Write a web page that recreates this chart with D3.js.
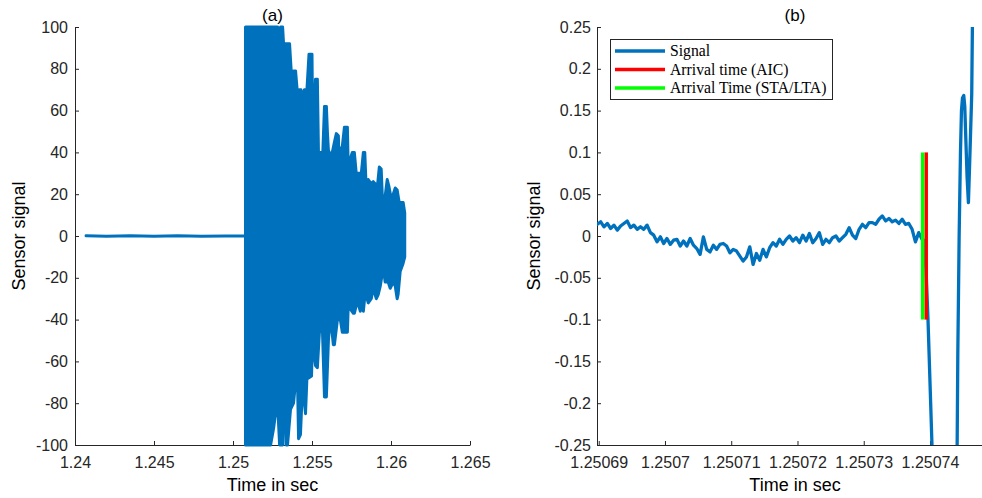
<!DOCTYPE html>
<html><head><meta charset="utf-8">
<script src="https://cdn.jsdelivr.net/npm/d3@7"></script>
<style>
body{margin:0;background:#fff;}
svg{display:block;}
</style></head><body>
<svg id="chart" width="982" height="498"></svg>
<script>
// ---------------- DATA ----------------
// Panel (a): full record
const baseT = [1.2407, 1.2420, 1.2435, 1.2450, 1.2465, 1.2480, 1.2495, 1.25079];
const baseV = [0.15, -0.1, 0.1, -0.1, 0.15, -0.1, 0.05, 0];
// upper envelope of the burst (positive peaks)
const upT = [1.25079, 1.25282, 1.25288, 1.25301, 1.25314, 1.25320, 1.25358, 1.25370, 1.25383, 1.25396,
  1.25408, 1.25421, 1.25430, 1.25440, 1.25452, 1.25468, 1.25481, 1.25500, 1.25505, 1.25522,
  1.25534, 1.25541, 1.25560, 1.25566, 1.25579, 1.25591, 1.25598, 1.25604, 1.25623, 1.25642,
  1.25654, 1.25667, 1.25673, 1.25686, 1.25692, 1.25705, 1.25724, 1.25730, 1.25743, 1.25755,
  1.25768, 1.25780, 1.25793, 1.25812, 1.25825, 1.25834, 1.25844, 1.25856, 1.25875, 1.25888,
  1.25900, 1.25913, 1.25926, 1.25938, 1.25945, 1.25963, 1.25976, 1.25986, 1.26001, 1.26014,
  1.26027, 1.26039, 1.26052, 1.26077, 1.26087];
const upV = [100, 100, 95, 100, 100, 92, 92, 77, 79, 79,
  68, 70, 70, 66, 70, 70, 87, 87, 46, 75,
  75, 40, 40, 35, 62, 62, 49, 41, 38, 45,
  49, 48, 30, 42, 43, 52, 52, 30, 37, 40,
  40, 30, 30, 30, 40, 40, 21, 27, 25, 26,
  25, 23, 33, 32, 19, 19, 27, 24, 18, 20,
  23, 22, 16, 16, 11];
// lower envelope of the burst (negative peaks)
const lowT = [1.25079, 1.25238, 1.25257, 1.25269, 1.25282, 1.25295, 1.25314, 1.25326, 1.25336, 1.25345,
  1.25364, 1.25383, 1.25396, 1.25408, 1.25415, 1.25427, 1.25440, 1.25446, 1.25459, 1.25471,
  1.25478, 1.25497, 1.25503, 1.25522, 1.25534, 1.25547, 1.25566, 1.25579, 1.25591, 1.25604,
  1.25616, 1.25635, 1.25642, 1.25661, 1.25673, 1.25692, 1.25724, 1.25730, 1.25743, 1.25762,
  1.25768, 1.25787, 1.25806, 1.25818, 1.25825, 1.25837, 1.25856, 1.25875, 1.25888, 1.25907,
  1.25919, 1.25932, 1.25951, 1.25963, 1.25982, 1.25995, 1.26014, 1.26027, 1.26039, 1.26045,
  1.26058, 1.26077, 1.26087];
const lowV = [-100, -100, -92, -85, -80, -100, -100, -60, -100, -100,
  -83, -80, -70, -68, -97, -95, -72, -75, -85, -62,
  -68, -67, -50, -62, -63, -46, -45, -77, -77, -50,
  -38, -52, -52, -40, -37, -46, -46, -32, -35, -37,
  -37, -31, -36, -23, -36, -27, -32, -30, -25, -30,
  -28, -24, -15, -22, -22, -25, -22, -24, -30, -28,
  -17, -13, -10];

// Panel (b): zoom around the arrival
const zoomT = [1.2506898,
  1.2506903, 1.2506908, 1.2506913, 1.2506918, 1.2506923, 1.2506928, 1.2506933, 1.2506938, 1.2506943, 1.2506948,
  1.2506953, 1.2506958, 1.2506963, 1.2506968, 1.2506973, 1.2506978, 1.2506983, 1.2506988, 1.2506993, 1.2506998,
  1.2507003, 1.2507008, 1.2507013, 1.2507018, 1.2507023, 1.2507028, 1.2507033, 1.2507038, 1.2507043, 1.2507048,
  1.2507053, 1.2507058, 1.2507063, 1.2507068, 1.2507073, 1.2507078, 1.2507083, 1.2507088, 1.2507093, 1.2507098,
  1.2507103, 1.2507108, 1.2507113, 1.2507118, 1.2507123, 1.2507128, 1.2507133, 1.2507138, 1.2507143, 1.2507148,
  1.2507153, 1.2507158, 1.2507163, 1.2507168, 1.2507173, 1.2507178, 1.2507183, 1.2507188, 1.2507193, 1.2507198,
  1.2507203, 1.2507208, 1.2507213, 1.2507218, 1.2507223, 1.2507228, 1.2507233, 1.2507238, 1.2507243, 1.2507248,
  1.2507253, 1.2507258, 1.2507263, 1.2507268, 1.2507273, 1.2507278, 1.2507283, 1.2507288, 1.2507293, 1.2507298,
  1.2507303, 1.2507308, 1.2507313, 1.2507318, 1.2507323, 1.2507328, 1.2507333, 1.2507338, 1.2507343, 1.2507348,
  1.2507353, 1.2507358, 1.2507363, 1.2507368, 1.2507373, 1.2507378, 1.2507383, 1.2507388,
  1.2507391, 1.2507394, 1.2507397, 1.2507400, 1.2507403, 1.2507409, 1.2507421, 1.2507430, 1.2507436, 1.2507439,
  1.2507441, 1.2507442, 1.2507444, 1.2507446, 1.25074475, 1.2507449, 1.2507451, 1.25074525, 1.25074535, 1.2507456, 1.2507458, 1.2507460,
  1.2507463, 1.2507464, 1.2507466];
const zoomV = [0.014,
  0.017, 0.011, 0.015, 0.009, 0.013, 0.007, 0.012, 0.015, 0.018, 0.010,
  0.013, 0.008, 0.011, 0.008, 0.013, 0.004, 0.001, -0.007, -0.001, -0.009,
  -0.003, -0.010, -0.005, -0.004, -0.012, -0.006, -0.012, -0.003, -0.011, -0.015,
  -0.022, -0.001, -0.016, -0.019, -0.011, -0.016, -0.010, -0.009, -0.012, -0.020,
  -0.016, -0.018, -0.024, -0.030, -0.025, -0.013, -0.034, -0.021, -0.029, -0.016,
  -0.025, -0.014, -0.008, -0.012, -0.004, -0.010, -0.004, 0.000, -0.006, -0.002,
  -0.008, 0.001, -0.006, 0.003, -0.008, -0.003, 0.004, -0.010, -0.004, -0.008,
  -0.002, 0.000, -0.006, -0.002, 0.002, 0.010, 0.001, -0.003, 0.008, 0.014,
  0.010, 0.016, 0.016, 0.014, 0.020, 0.024, 0.018, 0.021, 0.017, 0.019,
  0.015, 0.020, 0.014, 0.015, 0.008, -0.007, 0.004, -0.004,
  -0.005, -0.04, -0.10, -0.175, -0.25, -0.40, -0.62, -0.66, -0.55, -0.36,
  -0.25, -0.14, 0.0, 0.10, 0.15, 0.165, 0.168, 0.155, 0.13, 0.07, 0.04, 0.09,
  0.17, 0.25, 0.35];
const arrivalAIC = 1.25073943;
const arrivalSTA = 1.25073889;
const markerSpan = [-0.1, 0.1];

// ticks
const leftXTicks = [1.24, 1.245, 1.25, 1.255, 1.26, 1.265];
const leftXLabels = ["1.24", "1.245", "1.25", "1.255", "1.26", "1.265"];
const leftYTicks = [-100, -80, -60, -40, -20, 0, 20, 40, 60, 80, 100];
const leftYLabels = ["-100", "-80", "-60", "-40", "-20", "0", "20", "40", "60", "80", "100"];
const rightXTicks = [1.25069, 1.2507, 1.25071, 1.25072, 1.25073, 1.25074];
const rightXLabels = ["1.25069", "1.2507", "1.25071", "1.25072", "1.25073", "1.25074"];
const rightYTicks = [-0.25, -0.2, -0.15, -0.1, -0.05, 0, 0.05, 0.1, 0.15, 0.2, 0.25];
const rightYLabels = ["-0.25", "-0.2", "-0.15", "-0.1", "-0.05", "0", "0.05", "0.1", "0.15", "0.2", "0.25"];

const legendLabels = ["Signal", "Arrival time (AIC)", "Arrival Time (STA/LTA)"];
const titles = ["(a)", "(b)"];
const xLabelText = "Time in sec";
const yLabelText = "Sensor signal";

// ---------------- STYLE ----------------
const BLUE = "#0072BD", RED = "#FF0000", GREEN = "#00FF00";
const AX = "#262626";
const SANS = '"Liberation Sans", Arial, Helvetica, sans-serif';
const SERIF = '"Liberation Serif", "Times New Roman", Times, serif';

const svg = d3.select("#chart");

function styleAxis(g) {
  g.select(".domain").attr("stroke", AX).attr("stroke-width", 1);
  g.selectAll(".tick line").attr("stroke", AX).attr("stroke-width", 1);
  g.selectAll(".tick text").attr("fill", AX).style("font-family", SANS).style("font-size", "16px");
}

function drawAxes(x, y, xt, xl, yt, yl, ypad) {
  svg.append("g").attr("transform", `translate(0,${y.range()[0]})`)
    .call(d3.axisBottom(x).tickValues(xt).tickFormat((d, i) => xl[i]).tickSizeInner(-4).tickSizeOuter(0).tickPadding(12))
    .call(styleAxis);
  svg.append("g").attr("transform", `translate(${x.range()[0]},0)`)
    .call(d3.axisLeft(y).tickValues(yt).tickFormat((d, i) => yl[i]).tickSizeInner(-4).tickSizeOuter(0).tickPadding(ypad))
    .call(styleAxis);
}

function labels(cx, ylabX, cy, title) {
  svg.append("text").attr("x", cx).attr("y", 21).attr("text-anchor", "middle")
    .style("font-family", SANS).style("font-size", "17px").attr("fill", "#000").text(title);
  svg.append("text").attr("x", cx).attr("y", 491).attr("text-anchor", "middle")
    .style("font-family", SANS).style("font-size", "18px").attr("fill", "#000").text(xLabelText);
  svg.append("text").attr("transform", `translate(${ylabX},${cy}) rotate(-90)`).attr("text-anchor", "middle")
    .style("font-family", SANS).style("font-size", "18px").attr("fill", "#000").text(yLabelText);
}

// ---------------- PANEL (a) ----------------
const xL = d3.scaleLinear().domain([1.24, 1.265]).range([75, 470]);
const yL = d3.scaleLinear().domain([-100, 100]).range([445, 27]);
drawAxes(xL, yL, leftXTicks, leftXLabels, leftYTicks, leftYLabels, 7);

const lineL = d3.line().x(d => xL(d[0])).y(d => yL(d[1]));
svg.append("path").datum(baseT.map((t, i) => [t, baseV[i]]))
  .attr("d", lineL).attr("fill", "none").attr("stroke", BLUE).attr("stroke-width", 3)
  .attr("stroke-linejoin", "round").attr("stroke-linecap", "round");
const envPts = upT.map((t, i) => [t, upV[i]]).concat(lowT.map((t, i) => [t, lowV[i]]).reverse());
svg.append("path").attr("d", lineL(envPts) + "Z")
  .attr("fill", BLUE).attr("stroke", BLUE).attr("stroke-width", 3).attr("stroke-linejoin", "round");

labels(272.5, 25, 236, titles[0]);

// ---------------- PANEL (b) ----------------
const xR = d3.scaleLinear().domain([1.25068974, 1.25074951]).range([597, 993]);
const yR = d3.scaleLinear().domain([-0.25, 0.25]).range([445, 27]);
drawAxes(xR, yR, rightXTicks, rightXLabels, rightYTicks, rightYLabels, 6);

svg.append("clipPath").attr("id", "clipR").append("rect")
  .attr("x", 597).attr("y", 27).attr("width", 396).attr("height", 418);

const gR = svg.append("g").attr("clip-path", "url(#clipR)");
const lineR = d3.line().x(d => xR(d[0])).y(d => yR(d[1]));
gR.append("path").datum(zoomT.map((t, i) => [t, zoomV[i]]))
  .attr("d", lineR).attr("fill", "none").attr("stroke", BLUE).attr("stroke-width", 3.3)
  .attr("stroke-linejoin", "round").attr("stroke-linecap", "round");
[[arrivalAIC, RED], [arrivalSTA, GREEN]].forEach(([t, c]) => {
  gR.append("line").attr("x1", xR(t)).attr("x2", xR(t))
    .attr("y1", yR(markerSpan[0])).attr("y2", yR(markerSpan[1]))
    .attr("stroke", c).attr("stroke-width", 3.5);
});

// legend
const lg = svg.append("g");
lg.append("rect").attr("x", 610.5).attr("y", 39.5).attr("width", 222).attr("height", 60)
  .attr("fill", "#fff").attr("stroke", AX).attr("stroke-width", 1);
const legColors = [BLUE, RED, GREEN];
legendLabels.forEach((lab, i) => {
  const cy = 51 + i * 18.5;
  lg.append("line").attr("x1", 615).attr("x2", 665).attr("y1", cy).attr("y2", cy)
    .attr("stroke", legColors[i]).attr("stroke-width", 3.3);
  lg.append("text").attr("x", 670).attr("y", cy).attr("dy", "0.33em")
    .style("font-family", SERIF).style("font-size", "15.7px").attr("fill", "#000").text(lab);
});

labels(795, 540, 236, titles[1]);
</script>
</body></html>
